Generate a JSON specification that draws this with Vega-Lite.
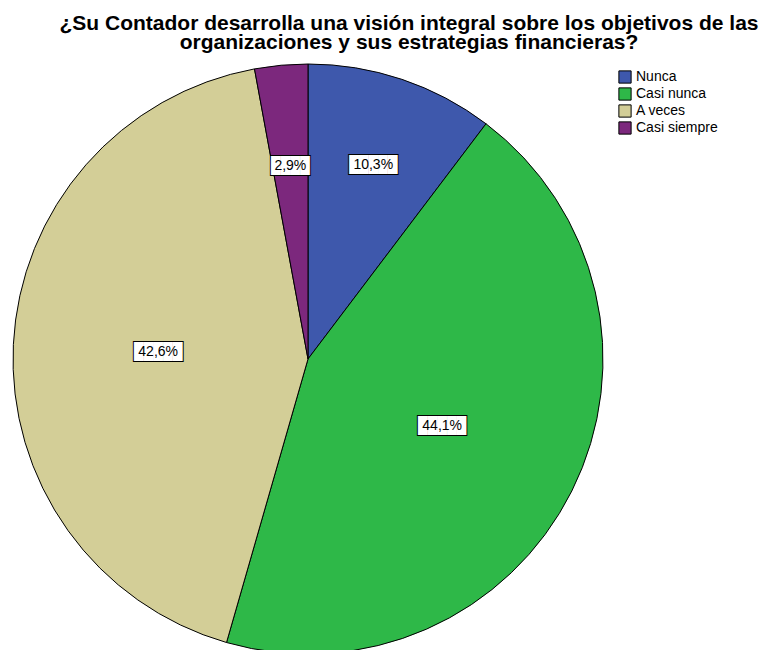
{
  "$schema": "https://vega.github.io/schema/vega-lite/v6.json",
  "autosize": "none",
  "width": 590,
  "height": 582,
  "padding": {"left": 13, "top": 68, "right": 160, "bottom": 0},
  "background": "white",
  "config": {
    "view": {"stroke": null},
    "locale": {"number": {"decimal": ",", "thousands": ".", "grouping": [3], "currency": ["", "€"]}}
  },
  "title": {
    "text": ["¿Su Contador desarrolla una visión integral sobre los objetivos de las", "organizaciones y sus estrategias financieras?"],
    "font": "Liberation Sans",
    "fontSize": 21,
    "fontWeight": "bold",
    "color": "black",
    "anchor": "middle",
    "dx": 101,
    "lineHeight": 19,
    "offset": 9
  },
  "data": {
    "values": [
      {"categoria": "Nunca", "pct": 0.103, "ord": 1},
      {"categoria": "Casi nunca", "pct": 0.441, "ord": 2},
      {"categoria": "A veces", "pct": 0.426, "ord": 3},
      {"categoria": "Casi siempre", "pct": 0.029, "ord": 4}
    ]
  },
  "encoding": {
    "theta": {"field": "pct", "type": "quantitative", "stack": true},
    "order": {"field": "ord", "type": "quantitative"}
  },
  "layer": [
    {
      "mark": {"type": "arc", "outerRadius": 295, "stroke": "black", "strokeWidth": 1},
      "encoding": {
        "color": {
          "field": "categoria",
          "type": "nominal",
          "sort": ["Nunca", "Casi nunca", "A veces", "Casi siempre"],
          "scale": {
            "domain": ["Nunca", "Casi nunca", "A veces", "Casi siempre"],
            "range": ["#3E58AC", "#2EB848", "#D3CE97", "#7C287D"]
          },
          "legend": {
            "title": null,
            "orient": "none",
            "legendX": 605,
            "legendY": 2,
            "padding": 0,
            "symbolType": "square",
            "symbolSize": 150,
            "symbolStrokeColor": "black",
            "symbolStrokeWidth": 1,
            "symbolOpacity": 1,
            "labelFont": "Liberation Sans",
            "labelFontSize": 14,
            "labelColor": "black",
            "labelOffset": 4,
            "rowPadding": -1
          }
        }
      }
    },
    {
      "mark": {"type": "text", "font": "DejaVu Sans Mono", "fontSize": 16, "fill": "white", "stroke": "black", "strokeWidth": 2, "baseline": "middle", "align": "center",
        "radius": {"expr": "datum.pct < 0.05 ? 194 : (datum.pct < 0.2 ? 205 : 150)"}},
      "encoding": {
        "text": {"condition": {"test": "datum.pct < 0.1", "value": "████"}, "value": "█████"}
      }
    },
    {
      "mark": {"type": "text", "font": "DejaVu Sans Mono", "fontSize": 16, "fill": "white", "baseline": "middle", "align": "center",
        "radius": {"expr": "datum.pct < 0.05 ? 194 : (datum.pct < 0.2 ? 205 : 150)"}},
      "encoding": {
        "text": {"condition": {"test": "datum.pct < 0.1", "value": "████"}, "value": "█████"}
      }
    },
    {
      "mark": {"type": "text", "font": "Liberation Sans", "fontSize": 14, "fill": "black", "baseline": "middle", "align": "center",
        "radius": {"expr": "datum.pct < 0.05 ? 194 : (datum.pct < 0.2 ? 205 : 150)"}},
      "encoding": {
        "text": {"field": "pct", "type": "quantitative", "format": ".1%"}
      }
    }
  ]
}
